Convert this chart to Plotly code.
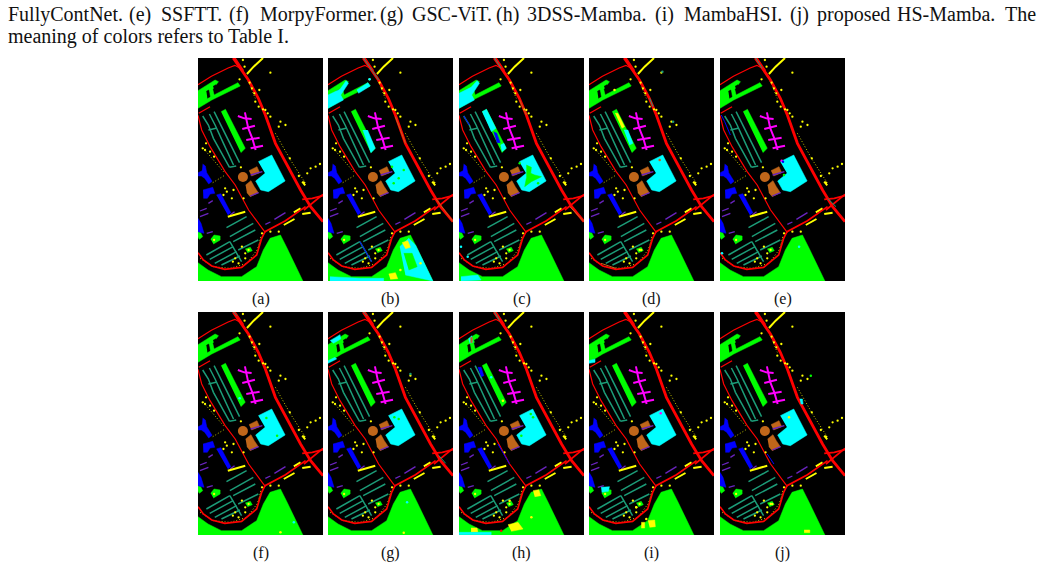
import plotly.graph_objects as go

W, H = 1041, 569
PANEL_W, PANEL_H = 125, 223
PANEL_LEFT = [198, 328, 459, 589, 720, 198, 328, 459, 589, 720]
PANEL_TOP = [58] * 5 + [312] * 5
LABELS = ["(a)", "(b)", "(c)", "(d)", "(e)", "(f)", "(g)", "(h)", "(i)", "(j)"]

TOP_WORDS = [("FullyContNet.", 7), ("(e)", 128.4), ("SSFTT.", 159.8), ("(f)", 228.2), ("MorpyFormer.", 258.6),
             ("(g)", 379), ("GSC-ViT.", 411.4), ("(h)", 494.8), ("3DSS-Mamba.", 526.2), ("(i)", 653.6),
             ("MambaHSI.", 683), ("(j)", 789.4), ("proposed", 815.8), ("HS-Mamba.", 896.2), ("The", 1003.6)]
SECOND_LINE = "meaning of colors refers to Table I."

RED = "#ff0000"; GREEN = "#00ff00"; CYAN = "#00ffff"; MAGENTA = "#ff00ff"; BLUE = "#0000ff"
YELLOW = "#ffff00"; BROWN = "#c0661a"; PURPLE = "#6a24c0"; TEAL = "#1c9c78"; OLIVE = "#c8c800"
BLACK = "#000000"

MEADOW = [[(24,638),(54,660),(94,680),(154,680),(199,650),(219,600),(239,565),(270,555),(290,595),(337,693),(24,693)]]
GREEN_POLYS = [[(24,122),(48,108),(75,90),(85,95),(75,110),(68,118),(72,135),(143,98),(150,108),(65,150),(24,175)],
               [(93,185),(106,178),(165,295),(152,308)],
               [(62,568),(72,555),(90,558),(90,570),(70,582)],
               [(24,545),(32,548),(38,560),(28,568),(24,562)],
               [(165,597),(180,592),(186,602),(172,608)]]
HOLE_POLYS = [[(49,124),(56,120),(60,140),(52,145)], [(69,109),(78,104),(84,120),(74,124)]]
CYAN_POLYS = [[(204,335),(244,315),(284,393),(234,425),(211,420),(196,393),(224,370)]]
BROWN_POLYS = [[(176,362),(200,350),(208,368),(184,378)],
               [(166,405),(182,392),(192,410),(204,428),(180,440),(170,428)]]
BLUE_POLYS = [[(38,342),(46,348),(50,368),(60,385),(66,394),(56,402),(44,385),(34,378),(25,378),(25,368),(36,362)],
              [(39,420),(68,412),(74,430),(60,432),(52,445),(40,445)],
              [(79,435),(92,431),(122,488),(113,495)],
              [(24,505),(33,520),(42,550),(24,545)]]
MAGENTA_LINES = [[(164,187),(174,235),(186,265),(196,300)], [(143,198),(162,205),(184,207)],
                 [(156,237),(175,233),(194,227)], [(168,270),(188,267),(208,263)], [(181,295),(200,291),(218,287)]]
ROAD_THICK = [[(129,24),(149,54),(174,89),(204,145),(225,195),(255,280),(290,345),(330,420),(360,470),(397,515)]]
ROAD_MED = [[(24,608),(40,630),(65,648),(104,658),(154,652),(199,615),(214,565),(224,545),(285,512),(345,470)],
            [(340,480),(365,460),(397,433)], [(335,448),(365,445),(397,437)]]
ROAD_THIN = [[(24,104),(64,79),(114,54),(134,46),(150,55)], [(26,190),(60,170)],
             [(24,196),(35,240),(60,290),(105,365),(135,405),(175,480),(225,548)], [(135,24),(160,62)]]
TEAL_LINES = [[(38,198),(55,225),(70,265),(95,310),(118,352)], [(58,192),(75,225),(100,280),(130,345)],
              [(72,185),(92,225),(115,275),(148,338)], [(55,240),(78,235)], [(118,352),(138,348)],
              [(109,533),(169,500)], [(119,560),(189,520)], [(129,575),(195,540)], [(144,600),(204,570)],
              [(49,615),(119,575)], [(59,628),(129,590)], [(74,640),(139,605)], [(94,645),(149,618)], [(119,575),(154,635)]]
PURPLE_LINES = [[(181,375),(216,365)], [(180,438),(205,428)], [(225,523),(240,516)], [(252,508),(285,488)],
                [(55,460),(68,452)], [(30,483),(50,475)], [(30,500),(55,490)], [(120,495),(133,485)], [(50,550),(68,545)]]
YELLOW_LINES = [[(170,72),(190,50),(218,24)], [(280,525),(312,507)], [(335,492),(360,488)], [(310,487),(330,475)],
                [(113,500),(165,485)], [(335,395),(344,406)]]
OLIVE_LINES = [[(255,250),(300,330),(345,400)], [(170,85),(195,145)], [(40,295),(100,365)], [(68,398),(105,375)],
               [(30,625),(70,650),(120,655),(170,640),(200,600),(215,560)], [(205,590),(212,555)]]
BROWN_DOT = [(158,381)]
YELLOW_DOTS = [(158,30),(163,50),(207,120),(148,88),(240,68),(225,180),(240,200),(270,215),(285,225),(265,230),
               (360,355),(388,342),(350,370),(325,378),(110,425),(130,420),(125,445),(160,445),(175,600),(135,625),
               (152,352),(45,300),(60,305),(72,320),(205,170),(195,155),(215,550),(240,545),(265,545),
               (178,98),(185,115),(192,130),(218,178),(232,190),(298,325),(375,350),(340,398),(155,590),(165,610),
               (48,280),(38,295),(128,635),(145,640),(165,625),(72,570),(100,435),(105,415)]

# Panel-specific differences: (colour, polygon), (colour, path) and (colour, x, y) specks
OVER_POLYS = {
    1: [(CYAN, [(24,135),(60,118),(78,92),(85,100),(62,135),(70,150),(24,175)]), (CYAN, [(110,120),(143,98),(150,108),(115,130)]),
        (CYAN, [(128,240),(152,308),(165,295),(142,240)]),
        (CYAN, [(238,590),(265,565),(285,585),(337,693),(255,675)]), (GREEN, [(250,610),(275,610),(290,650),(265,660)]),
        (CYAN, [(30,680),(120,685),(190,685),(190,693),(30,693)]),
        (YELLOW, [(245,578),(262,572),(270,592),(255,596)]), (YELLOW, [(205,672),(225,668),(232,686),(210,688)])],
    2: [(CYAN, [(24,130),(60,112),(78,92),(85,100),(62,135),(70,150),(24,175)]), (CYAN, [(93,185),(106,178),(134,235),(120,245)]),
        (BLUE, [(127,245),(137,250),(147,278),(137,278)]), (CYAN, [(148,285),(158,280),(165,295),(152,305)]),
        (GREEN, [(225,345),(240,352),(238,370),(250,375),(270,380),(240,395),(220,410),(225,385)]),
        (CYAN, [(30,680),(80,675),(90,690),(30,693)])],
    3: [(YELLOW, [(102,190),(110,190),(130,230),(122,235)]), (CYAN, [(128,240),(140,240),(155,280),(145,285)])],
    4: [],
    5: [],
    6: [(CYAN, [(24,170),(45,160),(50,165),(24,178)]), (CYAN, [(30,110),(60,92),(62,105),(40,118)])],
    7: [(CYAN, [(52,105),(62,95),(66,115),(56,118)]), (BROWN, [(58,100),(64,100),(64,116),(58,116)]),
        (YELLOW, [(245,560),(262,557),(268,575),(250,578)]), (YELLOW, [(170,662),(200,655),(215,675),(180,682)]),
        (YELLOW, [(60,672),(78,672),(80,684),(60,684)]),
        (BLUE, [(80,190),(90,190),(98,215),(90,218)]), (CYAN, [(24,685),(120,685),(120,692),(24,692)])],
    8: [(CYAN, [(60,550),(85,548),(82,562),(62,565)]), (YELLOW, [(200,650),(220,648),(222,668),(205,670)]),
        (YELLOW, [(180,655),(190,655),(190,672),(180,672)]), (CYAN, [(24,170),(42,165),(42,175),(24,178)])],
    9: [(YELLOW, [(275,678),(292,678),(292,686),(275,686)]), (CYAN, [(262,285),(270,285),(272,300),(265,300)])],
}
OVER_LINES = {
    1: [(TEAL, [(130,24),(175,90)]), (BROWN, [(225,200),(255,280)]), (BROWN, [(345,445),(397,515)]), (BLUE, [(119,575),(154,635)])],
    2: [(TEAL, [(130,24),(150,55)]), (BROWN, [(205,150),(225,195)]), (BROWN, [(355,470),(397,515)]), (BLUE, [(38,198),(55,225)])],
    3: [(TEAL, [(205,145),(215,170)]), (BROWN, [(60,640),(104,655)])],
    4: [(BLUE, [(28,195),(38,215),(55,255)]), (TEAL, [(130,24),(150,55)]), (TEAL, [(345,445),(370,470)])],
    5: [(TEAL, [(130,24),(140,35)])],
    6: [(TEAL, [(130,24),(140,35)]), (TEAL, [(355,455),(375,478)])],
    7: [(BLUE, [(140,420),(175,480)]), (TEAL, [(130,24),(145,50)])],
    9: [(BLUE, [(165,450),(185,480)])],
}
OVER_SPECKS = {
    1: [(CYAN,148,88),(GREEN,215,350),(GREEN,235,385),(GREEN,250,360),(GREEN,265,625),(YELLOW,300,640),(GREEN,220,400),(YELLOW,240,660)],
    2: [(GREEN,205,340),(GREEN,260,400),(CYAN,30,590),(CYAN,50,620)],
    3: [(BROWN,235,330),(TEAL,275,215),(TEAL,243,65),(GREEN,110,120),(YELLOW,100,120),(YELLOW,180,600)],
    4: [(MAGENTA,208,332),(BLUE,212,335),(CYAN,260,590),(GREEN,215,375),(CYAN,240,400),(CYAN,30,610)],
    5: [(GREEN,228,342),(GREEN,260,395),(CYAN,148,283),(CYAN,310,655),(YELLOW,270,685)],
    6: [(GREEN,222,340),(GREEN,235,345),(CYAN,260,595),(YELLOW,250,686),(TEAL,270,210)],
    7: [(GREEN,245,340),(GREEN,210,395),(CYAN,120,220),(GREEN,238,330),(YELLOW,155,290),(YELLOW,175,590),(YELLOW,240,640),(RED,150,680)],
    8: [(MAGENTA,238,328),(YELLOW,165,610),(YELLOW,195,645)],
    9: [(GREEN,295,215),(YELLOW,230,340),(YELLOW,180,600)],
}


def flat_lines(paths):
    xs, ys = [], []
    for path in paths:
        xs += [p[0] for p in path] + [None]
        ys += [p[1] for p in path] + [None]
    return xs, ys


fig = go.Figure()


def add_fill(polys, color, ax):
    x, y = flat_lines(polys)
    fig.add_trace(go.Scatter(x=x, y=y, mode="lines", fill="toself", fillcolor=color,
                             line=dict(color=color, width=0.5), xaxis=ax[0], yaxis=ax[1], hoverinfo="skip"))


def add_line(paths, color, width, ax, dash="solid"):
    x, y = flat_lines(paths)
    fig.add_trace(go.Scatter(x=x, y=y, mode="lines", line=dict(color=color, width=width, dash=dash),
                             xaxis=ax[0], yaxis=ax[1], hoverinfo="skip"))


def add_dots(points, color, size, ax):
    fig.add_trace(go.Scatter(x=[p[0] for p in points], y=[p[1] for p in points], mode="markers",
                             marker=dict(color=color, size=size, line=dict(width=0)),
                             xaxis=ax[0], yaxis=ax[1], hoverinfo="skip"))


layout_axes = {}
for i in range(10):
    n = "" if i == 0 else str(i + 1)
    ax = ("x" + n, "y" + n)
    add_fill(MEADOW, GREEN, ax)
    add_fill(GREEN_POLYS, GREEN, ax)
    add_fill(HOLE_POLYS, BLACK, ax)
    add_fill(CYAN_POLYS, CYAN, ax)
    add_fill(BROWN_POLYS, BROWN, ax)
    add_fill(BLUE_POLYS, BLUE, ax)
    add_line(MAGENTA_LINES, MAGENTA, 2, ax)
    add_line(TEAL_LINES, TEAL, 1.5, ax)
    add_line(PURPLE_LINES, PURPLE, 1.3, ax)
    add_line(OLIVE_LINES, OLIVE, 1, ax, dash="1px,2px")
    add_line(YELLOW_LINES, YELLOW, 2, ax)
    add_line(ROAD_THICK, RED, 2.8, ax)
    add_line(ROAD_MED, RED, 1.7, ax)
    add_line(ROAD_THIN, RED, 1.2, ax)
    add_dots(BROWN_DOT, BROWN, 10, ax)
    add_dots(YELLOW_DOTS, YELLOW, 2.3, ax)
    for color, poly in OVER_POLYS.get(i, []):
        add_fill([poly], color, ax)
    for color, path in OVER_LINES.get(i, []):
        add_line([path], color, 1, ax)
    for color, x, y in OVER_SPECKS.get(i, []):
        add_dots([(x, y)], color, 2.5, ax)
    layout_axes["xaxis" + n] = dict(domain=[PANEL_LEFT[i] / W, (PANEL_LEFT[i] + PANEL_W) / W], range=[24, 397],
                                    visible=False, fixedrange=True, anchor=ax[1])
    layout_axes["yaxis" + n] = dict(domain=[1 - (PANEL_TOP[i] + PANEL_H) / H, 1 - PANEL_TOP[i] / H], range=[693, 24],
                                    visible=False, fixedrange=True, anchor=ax[0])

FONT = dict(family="Liberation Serif", size=20, color="#111111")
annotations = []
for word, px in TOP_WORDS:
    annotations.append(dict(text=word, x=px / W, y=1 - 14 / H, xref="paper", yref="paper", xanchor="left",
                            yanchor="middle", showarrow=False, font=FONT, xshift=-1))
annotations.append(dict(text=SECOND_LINE, x=7 / W, y=1 - 37 / H, xref="paper", yref="paper", xanchor="left",
                        yanchor="middle", showarrow=False, font=FONT, xshift=-1))
for i, lab in enumerate(LABELS):
    annotations.append(dict(text=lab, x=(PANEL_LEFT[i] + PANEL_W / 2) / W, y=1 - (PANEL_TOP[i] + PANEL_H + 18) / H,
                            xref="paper", yref="paper", xanchor="center", yanchor="middle", showarrow=False,
                            font=dict(family="Liberation Serif", size=16, color="#111111")))

fig.update_layout(width=W, height=H, margin=dict(l=0, r=0, t=0, b=0), showlegend=False,
                  paper_bgcolor="white", plot_bgcolor="black", annotations=annotations, **layout_axes)
fig.write_html("out.html", config={"displayModeBar": False},
               post_script="document.body.style.margin='0';document.body.style.overflow='hidden';")
